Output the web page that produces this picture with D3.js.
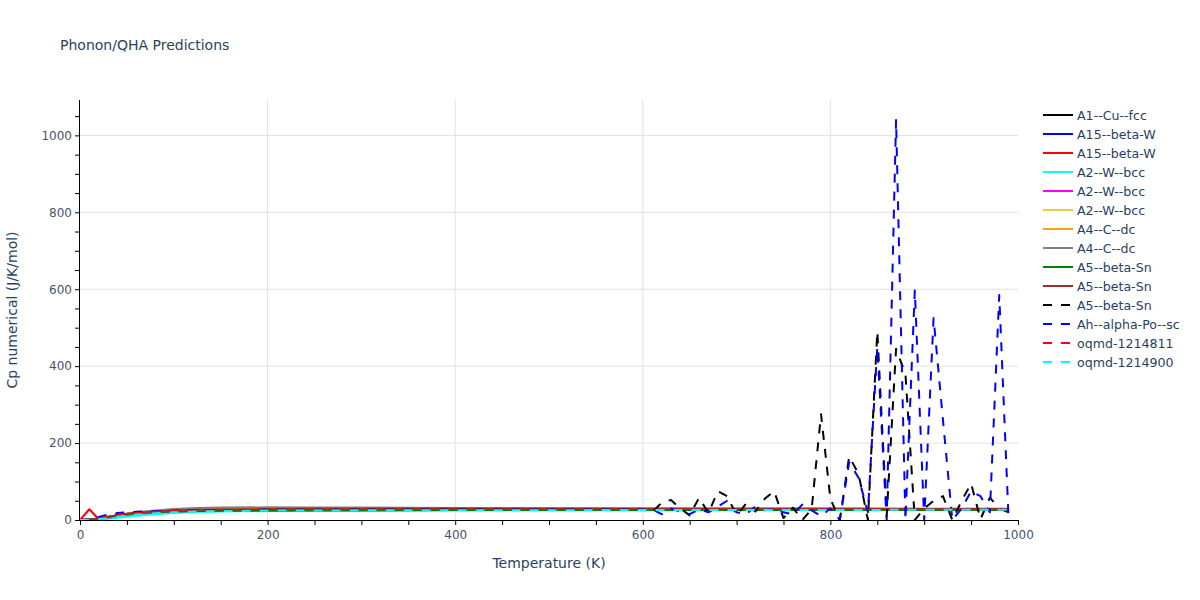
<!DOCTYPE html>
<html>
<head>
<meta charset="utf-8">
<script src="https://cdn.jsdelivr.net/npm/d3@7"></script>
<style>
  body { margin: 0; background: #fff; }
  text { font-family: "DejaVu Sans", verdana, arial, sans-serif; }
</style>
</head>
<body>
<div id="chart"></div>
<script>
const width = 1200;
const height = 600;
const margin = {top: 100, right: 182, bottom: 80, left: 80};

// temperature grids (K)
const tSmooth = [0, 10, 20, 30, 40, 50, 60, 80, 100, 125, 150, 200, 250, 300, 400, 500, 600, 700, 800, 900, 990];
const tNoisy = [0, 10, 20, 30, 40, 50, 60, 80, 100, 125, 150, 200, 250, 300, 400, 500, 600,
  610, 620, 630, 640, 650, 660, 670, 680, 690, 700, 710, 720, 730, 740, 750, 760, 770, 780, 790,
  800, 810, 820, 830, 840, 850, 860, 870, 880, 890, 900, 910, 920, 930, 940, 950, 960, 970, 980, 990];

// Cp values (J/K/mol)
const cuFcc     = [0, 0.5, 3, 7, 11, 14.5, 17, 20.5, 22.5, 23.8, 24.5, 25.2, 25.5, 25.7, 26, 26.2, 26.4, 26.6, 26.8, 27, 27.2];
const betaW1    = [0, 0.8, 4, 8.5, 12.5, 15.5, 18, 21, 23, 24.3, 25, 25.7, 26, 26.2, 26.5, 26.7, 26.9, 27.1, 27.3, 27.5, 27.7];
const betaW2    = [0, 28, 2, 6, 10, 13.5, 16, 19.5, 22, 23.5, 24.3, 25, 25.4, 25.6, 25.9, 26.1, 26.3, 26.5, 26.7, 26.9, 27.1];
const wBcc1     = [0, 0.2, 1.5, 3.5, 6, 8.5, 11, 15, 18, 20.5, 22, 23.5, 24.2, 24.6, 25, 25.3, 25.5, 25.7, 25.9, 26.1, 26.3];
const wBcc2     = [0, 0.4, 2.5, 6, 10, 13.5, 16, 19.5, 21.8, 23.3, 24.2, 25, 25.4, 25.6, 25.9, 26.1, 26.3, 26.5, 26.7, 26.9, 27];
const wBcc3     = [0, 0.3, 2.5, 6.5, 11, 15, 18, 22, 24.5, 26, 27, 27.8, 28, 28, 28, 28, 28, 28, 28, 28, 28];
const cDc1      = [0, 0.4, 3, 7.5, 12, 16, 19, 23, 26, 28, 29, 29.8, 30, 30, 29.8, 29.6, 29.4, 29.2, 29, 28.8, 28.6];
const cDc2      = [0, 0.3, 2.5, 7, 12, 16.5, 20, 25, 28.5, 31, 32.3, 33, 32.8, 32.2, 31, 30, 29.3, 28.8, 28.4, 28, 27.8];
const betaSn1   = [0, 1, 4, 8, 12, 15, 17.5, 20.5, 22.3, 23.5, 24.2, 25, 25.3, 25.5, 25.7, 26, 26, 26.1, 26.2, 26.3, 26.4];
const betaSn2   = [0, 0.6, 3.5, 8, 12.5, 16, 18.5, 22, 24.5, 26.5, 27.5, 28.5, 29, 29.3, 29.6, 29.8, 30, 30, 29.8, 29.5, 29.3];
const betaSn3   = [0, 0.5, 3, 7.5, 12, 15.5, 18, 21.5, 23.5, 25, 25.8, 26.5, 26.8, 27, 27.2, 27.3, 27.4,
  20, 45, 52, 30, 12, 58, 18, 75, 62, 12, 42, 22, 55, 75, 5, 32, 0, 28, 275,
  55, 0, 165, 120, 0, 490, 10, 445, 380, 0, 30, 50, 62, 0, 50, 95, 2, 58, 30, 20];
const alphaPo   = [0, 2, 8, 14, 18, 20, 21.5, 23, 24, 24.5, 25, 25.5, 25.8, 26, 26.2, 26.4, 26.5,
  28, 15, 30, 22, 15, 28, 20, 35, 50, 20, 15, 35, 25, 30, 20, 15, 40, 25, 10,
  30, 0, 150, 110, 20, 450, 0, 1040, 0, 597, 0, 525, 260, 0, 30, 75, 62, 20, 585, 0];
const oqmd811   = [0, 0.6, 4, 9, 13, 16, 18.5, 21.5, 23.3, 24.5, 25.2, 25.8, 26.1, 26.3, 26.5, 26.6, 26.7, 26.8, 26.9, 27, 27.1];
const oqmd900   = [0, 0.3, 2, 5, 8.5, 11.5, 14, 17.5, 20, 22, 23.2, 24.3, 24.8, 25.1, 25.4, 25.6, 25.8, 26, 26.2, 26.4, 26.5];

const xTicks = [0, 200, 400, 600, 800, 1000];
const yTicks = [0, 200, 400, 600, 800, 1000];

const series = [
  {name: "A1--Cu--fcc", t: tSmooth, v: cuFcc, color: "#000000", dash: null},
  {name: "A15--beta-W", t: tSmooth, v: betaW1, color: "#0000ff", dash: null},
  {name: "A15--beta-W", t: tSmooth, v: betaW2, color: "#ff0000", dash: null},
  {name: "A2--W--bcc", t: tSmooth, v: wBcc1, color: "#00ffff", dash: null},
  {name: "A2--W--bcc", t: tSmooth, v: wBcc2, color: "#ff00ff", dash: null},
  {name: "A2--W--bcc", t: tSmooth, v: wBcc3, color: "#ecc94a", dash: null},
  {name: "A4--C--dc", t: tSmooth, v: cDc1, color: "#ffa500", dash: null},
  {name: "A4--C--dc", t: tSmooth, v: cDc2, color: "#808080", dash: null},
  {name: "A5--beta-Sn", t: tSmooth, v: betaSn1, color: "#008000", dash: null},
  {name: "A5--beta-Sn", t: tSmooth, v: betaSn2, color: "#a52a2a", dash: null},
  {name: "A5--beta-Sn", t: tNoisy, v: betaSn3, color: "#000000", dash: "9,9"},
  {name: "Ah--alpha-Po--sc", t: tNoisy, v: alphaPo, color: "#0000ff", dash: "9,9"},
  {name: "oqmd-1214811", t: tSmooth, v: oqmd811, color: "#ff0000", dash: "9,9"},
  {name: "oqmd-1214900", t: tSmooth, v: oqmd900, color: "#00ffff", dash: "9,9"}
];

const svg = d3.select("#chart").append("svg").attr("width", width).attr("height", height);

const x = d3.scaleLinear().domain([0, 1000]).range([margin.left, width - margin.right]);
const y = d3.scaleLinear().domain([0, 1092]).range([height - margin.bottom, margin.top]);

const textColor = "#2a3f5f";
const tickColor = "#44546f";

// grid
svg.append("g").selectAll("line").data(xTicks.filter(d => d > 0 && d < 1000)).enter().append("line")
  .attr("x1", d => x(d)).attr("x2", d => x(d))
  .attr("y1", margin.top).attr("y2", height - margin.bottom)
  .attr("stroke", "#e1e1e1").attr("stroke-width", 1);
svg.append("g").selectAll("line").data(yTicks.filter(d => d > 0)).enter().append("line")
  .attr("x1", margin.left).attr("x2", width - margin.right)
  .attr("y1", d => y(d)).attr("y2", d => y(d))
  .attr("stroke", "#e1e1e1").attr("stroke-width", 1);

// lines
svg.append("clipPath").attr("id", "clip").append("rect")
  .attr("x", margin.left).attr("y", margin.top)
  .attr("width", width - margin.left - margin.right)
  .attr("height", height - margin.top - margin.bottom);

const line = d3.line().x(d => x(d[0])).y(d => y(d[1]));

const lineGroup = svg.append("g").attr("clip-path", "url(#clip)");
series.forEach(s => {
  lineGroup.append("path")
    .datum(s.t.map((t, i) => [t, s.v[i]]))
    .attr("d", line)
    .attr("fill", "none")
    .attr("stroke", s.color)
    .attr("stroke-width", 2)
    .attr("stroke-dasharray", s.dash)
    .attr("stroke-linejoin", "round");
});

// axes
const xAxis = d3.axisBottom(x).tickValues(d3.range(0, 1001, 50)).tickSize(5)
  .tickFormat(d => xTicks.includes(d) ? d : "");
const gx = svg.append("g").attr("transform", `translate(0,${height - margin.bottom})`).call(xAxis);
gx.select(".domain").attr("stroke", "#000").attr("d", `M${margin.left},0.5H${width - margin.right}`);
gx.selectAll(".tick line").attr("stroke", "#000");
gx.selectAll(".tick text").attr("fill", tickColor).attr("font-size", 12).attr("dy", "0.9em");

const yAxis = d3.axisLeft(y).tickValues(d3.range(0, 1051, 50)).tickSize(5)
  .tickFormat(d => yTicks.includes(d) ? d : "");
const gy = svg.append("g").attr("transform", `translate(${margin.left},0)`).call(yAxis);
gy.select(".domain").attr("stroke", "#000").attr("d", `M-0.5,${margin.top}V${height - margin.bottom}`);
gy.selectAll(".tick line").attr("stroke", "#000");
gy.selectAll(".tick text").attr("fill", tickColor).attr("font-size", 12).attr("x", -8);

// titles
svg.append("text").attr("x", 60).attr("y", 50).attr("fill", textColor)
  .attr("font-size", 14).text("Phonon/QHA Predictions");
svg.append("text").attr("x", (margin.left + width - margin.right) / 2).attr("y", 568)
  .attr("text-anchor", "middle").attr("fill", textColor).attr("font-size", 14).text("Temperature (K)");
svg.append("text").attr("transform", `translate(17,${(margin.top + height - margin.bottom) / 2}) rotate(-90)`)
  .attr("text-anchor", "middle").attr("fill", textColor).attr("font-size", 14).text("Cp numerical (J/K/mol)");

// legend
const legend = svg.append("g").attr("transform", "translate(1043,115)");
series.forEach((s, i) => {
  const g = legend.append("g").attr("transform", `translate(0,${i * 19})`);
  g.append("line").attr("x1", 0).attr("x2", 30).attr("y1", 0).attr("y2", 0)
    .attr("stroke", s.color).attr("stroke-width", 2).attr("stroke-dasharray", s.dash);
  g.append("text").attr("x", 34).attr("y", 4.5).attr("fill", textColor).attr("font-size", 12.6).text(s.name);
});
</script>
</body>
</html>
